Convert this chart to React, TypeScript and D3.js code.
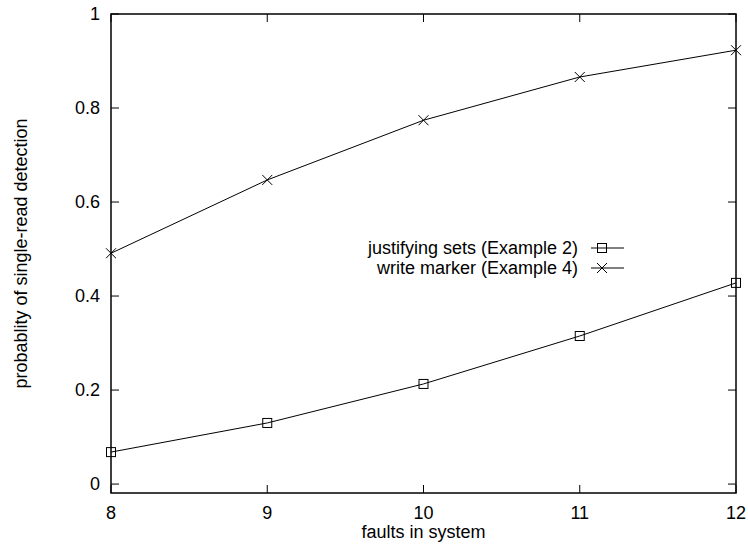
import React, {useEffect, useRef} from 'react'
import * as d3 from 'd3'

// faults vs detection probability
const faults = [8, 9, 10, 11, 12]
const justifying = [0.068, 0.13, 0.213, 0.315, 0.428]
const writeMarker = [0.491, 0.647, 0.774, 0.866, 0.923]
const yTicks = [0, 0.2, 0.4, 0.6, 0.8, 1]
const seriesNames = ['justifying sets (Example 2)', 'write marker (Example 4)']

const W = 748, H = 546
const font = '"Liberation Sans", Arial, sans-serif'

const App = () => {
  const ref = useRef<SVGSVGElement>(null)

  useEffect(() => {
    const svg = d3.select(ref.current)
    svg.selectAll('*').remove()
    svg.attr('font-family', font).attr('font-size', 18)

    const x = d3.scaleLinear().domain([8, 12]).range([111, 736])
    const y = d3.scaleLinear().domain([-0.019, 1]).range([493, 14])
    const [x0, x1] = x.range()
    const [y0, y1] = y.range()
    const tick = 8

    const g = svg.append('g').attr('stroke', '#000')

    // ticks (mirrored like gnuplot)
    faults.forEach(v => {
      g.append('line').attr('x1', x(v)).attr('x2', x(v)).attr('y1', y0).attr('y2', y0 - tick).attr('stroke-width', 1)
      g.append('line').attr('x1', x(v)).attr('x2', x(v)).attr('y1', y1).attr('y2', y1 + tick).attr('stroke-width', 1)
    })
    yTicks.forEach(v => {
      g.append('line').attr('x1', x0).attr('x2', x0 + tick).attr('y1', y(v)).attr('y2', y(v)).attr('stroke-width', 1)
      g.append('line').attr('x1', x1).attr('x2', x1 - tick).attr('y1', y(v)).attr('y2', y(v)).attr('stroke-width', 1)
    })

    g.append('rect')
      .attr('x', x0).attr('y', y1)
      .attr('width', x1 - x0).attr('height', y0 - y1)
      .attr('fill', 'none').attr('stroke-width', 1.5)

    svg.append('g').selectAll('text')
      .data(faults)
      .join('text')
      .attr('x', d => x(d)).attr('y', 519)
      .attr('text-anchor', 'middle')
      .text(d => d)

    svg.append('g').selectAll('text')
      .data(yTicks)
      .join('text')
      .attr('x', x0 - 11).attr('y', d => y(d) + 6)
      .attr('text-anchor', 'end')
      .text(d => d3.format('~g')(d))

    svg.append('text')
      .attr('x', (x0 + x1) / 2).attr('y', 538)
      .attr('text-anchor', 'middle')
      .text('faults in system')

    svg.append('text')
      .attr('transform', `translate(27,${(y0 + y1) / 2}) rotate(-90)`)
      .attr('text-anchor', 'middle')
      .text('probablity of single-read detection')

    const line = d3.line<number>().x((d, i) => x(faults[i])).y(d => y(d))

    const drawSquare = (sel, cx, cy) => sel.append('rect')
      .attr('x', cx - 4.5).attr('y', cy - 4.5).attr('width', 9).attr('height', 9)
      .attr('fill', 'none').attr('stroke', '#000').attr('stroke-width', 1)
    const drawCross = (sel, cx, cy) => sel.append('path')
      .attr('d', `M${cx - 5},${cy - 5}L${cx + 5},${cy + 5}M${cx - 5},${cy + 5}L${cx + 5},${cy - 5}`)
      .attr('stroke', '#000').attr('stroke-width', 1)

    const series = [justifying, writeMarker]
    const markers = [drawSquare, drawCross]
    const plot = svg.append('g')
    series.forEach((s, k) => {
      plot.append('path').datum(s).attr('d', line)
        .attr('fill', 'none').attr('stroke', '#000').attr('stroke-width', 1)
      s.forEach((v, i) => markers[k](plot, x(faults[i]), y(v)))
    })

    // legend
    seriesNames.forEach((name, k) => {
      const ly = 248 + k * 20
      svg.append('text').attr('x', 578).attr('y', ly + 6).attr('text-anchor', 'end').text(name)
      svg.append('line').attr('x1', 591).attr('x2', 624).attr('y1', ly).attr('y2', ly)
        .attr('stroke', '#000').attr('stroke-width', 1)
      markers[k](svg, 602, ly)
    })
  }, [])

  return <svg ref={ref} width={W} height={H}
    style={{position: 'absolute', left: 0, top: 0, background: '#fff'}} />
}

export default App
